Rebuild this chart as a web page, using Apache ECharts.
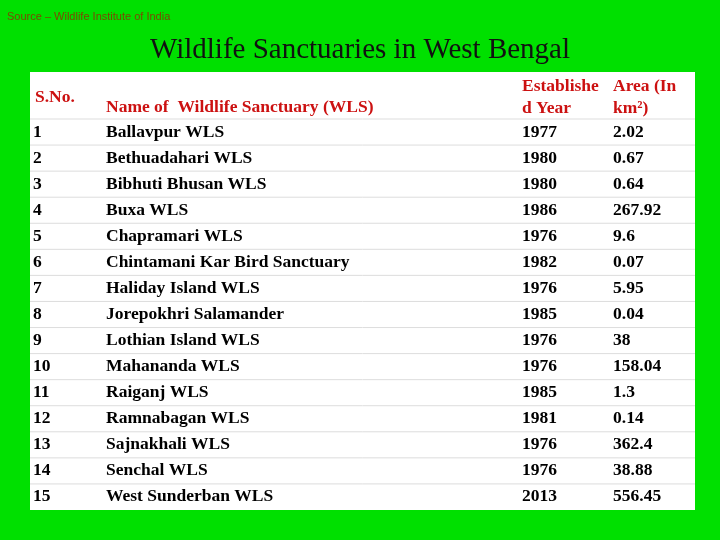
<!DOCTYPE html>
<html><head><meta charset="utf-8">
<script src="https://cdn.jsdelivr.net/npm/echarts@6/dist/echarts.min.js"></script>
<style>html,body{margin:0;background:#00e000}#c{width:720px;height:540px}</style>
</head><body><div id="c"></div>
<script>
const serials = ['1','2','3','4','5','6','7','8','9','10','11','12','13','14','15'];
const names = ['Ballavpur WLS','Bethuadahari WLS','Bibhuti Bhusan WLS','Buxa WLS','Chapramari WLS',
  'Chintamani Kar Bird Sanctuary','Haliday Island WLS','Jorepokhri Salamander','Lothian Island WLS',
  'Mahananda WLS','Raiganj WLS','Ramnabagan WLS','Sajnakhali WLS','Senchal WLS','West Sunderban WLS'];
const years = ['1977','1980','1980','1986','1976','1982','1976','1985','1976','1976','1985','1981','1976','1976','2013'];
const areas = ['2.02','0.67','0.64','267.92','9.6','0.07','5.95','0.04','38','158.04','1.3','0.14','362.4','38.88','556.45'];

const colX = [33, 106, 522, 613];
const font = 'bold 17.5px "Liberation Serif", serif';
const hdr = 'bold 17.5px "Liberation Serif", serif';

const chart = echarts.init(document.getElementById('c'));
chart.setOption({
  backgroundColor: '#00e000',
  animation: false,
  grid: { left: 30, right: 25, top: 119, bottom: 30 },
  xAxis: { type: 'value', min: 0, max: 1, show: false },
  yAxis: { type: 'category', data: serials, inverse: true, show: false },
  graphic: [
    { type: 'rect', shape: { x: 30, y: 72, width: 665, height: 438 }, style: { fill: '#fff' }, z: -1 },
    { type: 'text', left: 7, top: 11, style: { text: 'Source – Wildlife Institute of India', font: '11px "Liberation Sans", Arial', fill: '#7a4a00' } },
    { type: 'text', left: 'center', top: 36, style: { text: 'Wildlife Sanctuaries in West Bengal', font: '29px "Liberation Serif", serif', fill: '#111' } },
    { type: 'text', left: 35, top: 88, style: { text: 'S.No.', font: hdr, fill: '#cc1111' } },
    { type: 'text', left: 106, top: 98, style: { text: 'Name of  Wildlife Sanctuary (WLS)', font: hdr, fill: '#cc1111' } },
    { type: 'text', left: 522, top: 75, style: { text: 'Establishe\nd Year', font: hdr, fill: '#cc1111', lineHeight: 22 } },
    { type: 'text', left: 613, top: 75, style: { text: 'Area (In\nkm²)', font: hdr, fill: '#cc1111', lineHeight: 22 } }
  ],
  series: [{
    type: 'custom',
    data: serials.map((s, i) => [0, i]),
    renderItem: (params, api) => {
      const i = api.value(1);
      const p = api.coord([0, i]);
      const h = api.size([0, 1])[1];
      const top = p[1] - h / 2;
      const vals = [serials[i], names[i], years[i], areas[i]];
      const children = [{ type: 'line', shape: { x1: 30, y1: top, x2: 695, y2: top }, style: { stroke: '#dddddd', lineWidth: 1 } }];
      vals.forEach((t, k) => children.push({
        type: 'text', x: colX[k], y: p[1],
        style: { text: t, font: font, fill: '#000', verticalAlign: 'middle' }
      }));
      return { type: 'group', children };
    }
  }]
});
</script></body></html>
